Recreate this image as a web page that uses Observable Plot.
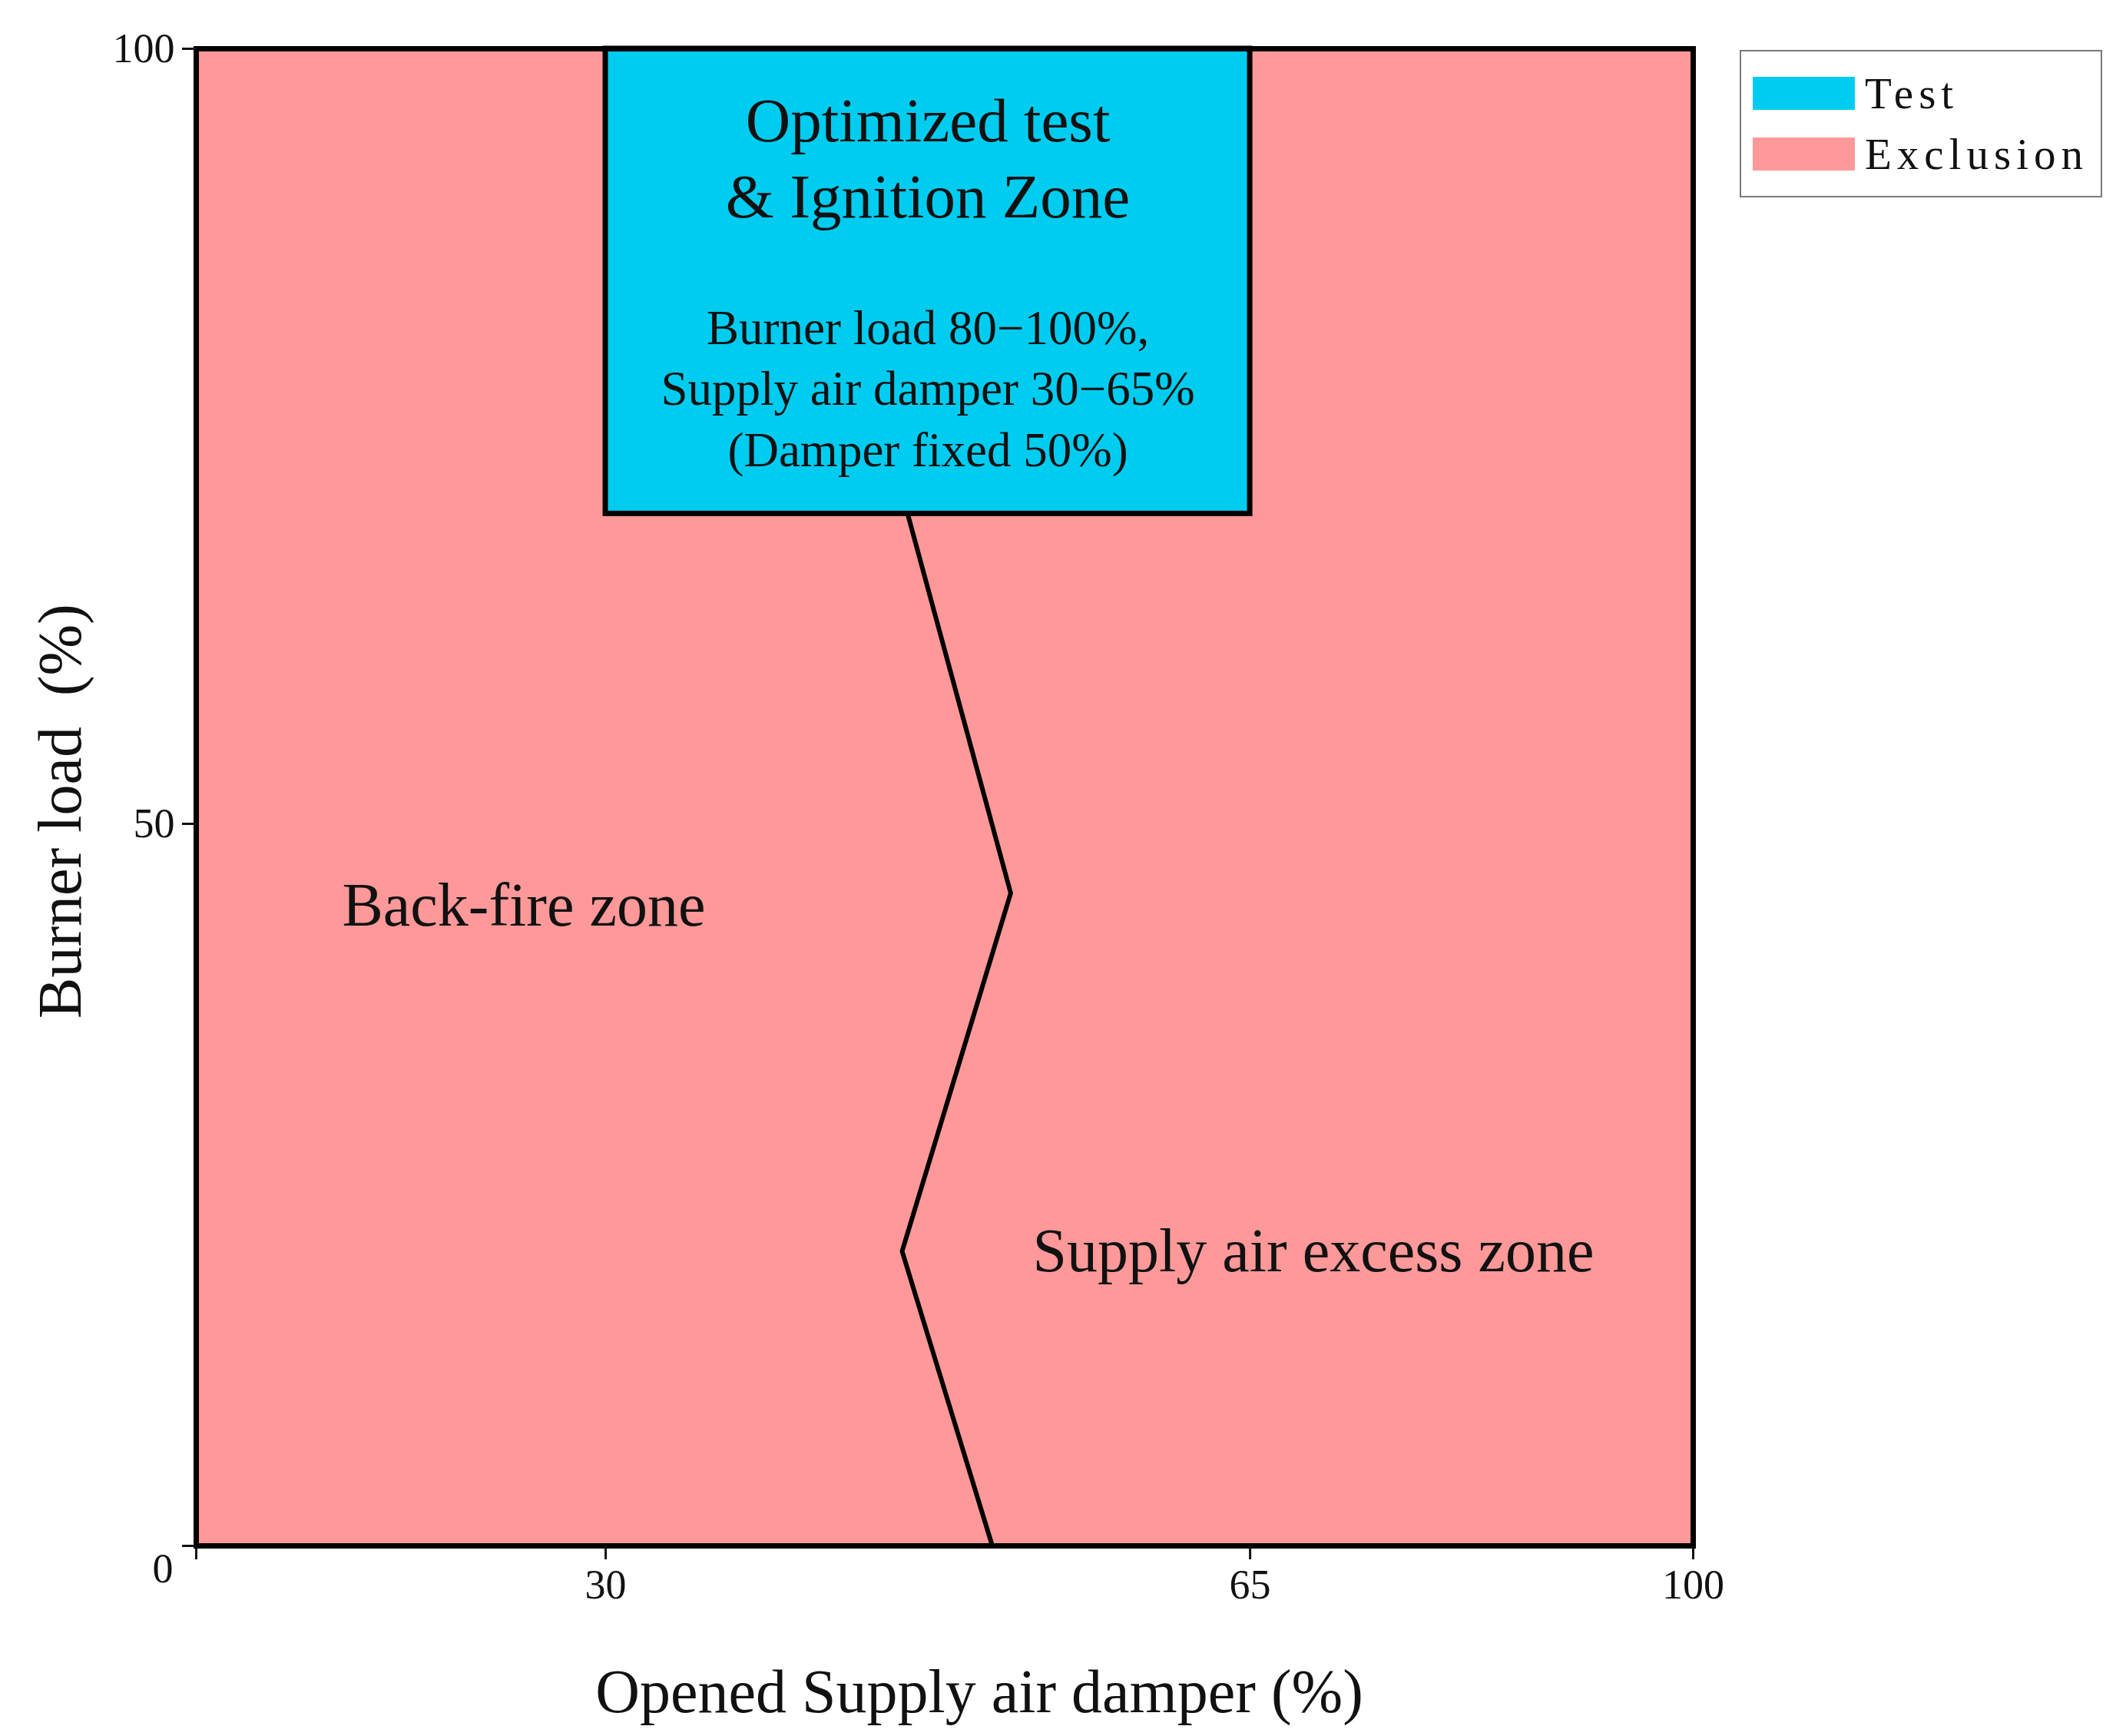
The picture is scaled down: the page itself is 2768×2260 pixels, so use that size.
<!DOCTYPE html>
<html>
<head>
<meta charset="utf-8">
<script src="https://cdn.jsdelivr.net/npm/d3@7"></script>
<script src="https://cdn.jsdelivr.net/npm/@observablehq/plot@0.6"></script>
<style>
  html, body { margin: 0; padding: 0; background: #fff; }
  #wrap { position: relative; width: 2768px; height: 2260px; overflow: hidden; }
  #legendBox {
    position: absolute; left: 2265px; top: 65px; width: 453px; height: 173px;
    border: 2px solid #7a7a7a; background: #fff; padding: 15px 0 0 15px;
  }
  .lg-swatches { font-family: "Liberation Serif", "Times New Roman", serif; font-size: 57px; letter-spacing: 7px; margin: 0; color: #111; }
  .lg-swatch { height: 79px; padding-bottom: 0; display: flex; align-items: center; }
  .lg-swatch > svg { margin-right: 13px; }
  .lg-swatch-label { overflow: visible; }
</style>
</head>
<body>
<div id="wrap"><div id="legendBox"></div></div>
<script>
// ---- data ----
const zoneNames = ["Test", "Exclusion"];
const zoneColors = ["#00CCF0", "#FF9999"];

// axis tick values and the (non-uniform) share of the axis length at which each sits, in %
const xTicks = [0, 30, 65, 100];
const xTickShare = [0, 27.35, 70.4, 100];
const yTicks = [0, 50, 100];
const yTickShare = [0, 48.23, 100];

// rectangular regions (data units)
const regionZone = ["Exclusion", "Test"];
const regionX1 = [0, 30];
const regionX2 = [100, 65];
const regionY1 = [0, 70];
const regionY2 = [100, 100];

// boundary between back-fire and supply-air-excess zones
const boundaryX = [46.4, 52.0, 46.1, 51.0];
const boundaryY = [70, 45.2, 20.4, 0];

// zone annotations
const zoneLabelText = ["Back-fire zone", "Supply air excess zone"];
const zoneLabelX = [24, 70];
const zoneLabelY = [44.3, 20.4];

const boxTitle = "Optimized test\n& Ignition Zone";
const boxTitleX = 47.5, boxTitleY = 93.15;
const boxDetail = "Burner load 80\u2212100%,\nSupply air damper 30\u221265%\n(Damper fixed 50%)";
const boxDetailX = 47.5, boxDetailY = 78.28;

const xLabel = "Opened Supply air damper (%)";
const yLabel = "Burner load\u00a0 (%)";

// ---- build tables ----
const regions = regionZone.map((z, i) => ({zone: z, x1: regionX1[i], x2: regionX2[i], y1: regionY1[i], y2: regionY2[i]}));
const boundary = boundaryX.map((x, i) => ({x, y: boundaryY[i]}));
const zoneLabels = zoneLabelText.map((t, i) => ({t, x: zoneLabelX[i], y: zoneLabelY[i]}));

const xWarp = d3.scaleLinear().domain(xTicks).range(xTickShare);
const yWarp = d3.scaleLinear().domain(yTicks).range(yTickShare);

const W = 2768, H = 2260;
const mL = 255, mR = 564, mT = 63, mB = 248;

const plot = Plot.plot({
  width: W,
  height: H,
  marginLeft: mL, marginRight: mR, marginTop: mT, marginBottom: mB,
  style: {fontFamily: "'Liberation Serif', 'Times New Roman', serif", fontSize: "54px", color: "#111", background: "#fff"},
  x: {domain: [0, 100], transform: xWarp, axis: null},
  y: {domain: [0, 100], transform: yWarp, axis: null},
  color: {domain: zoneNames, range: zoneColors},
  marks: [
    Plot.rect(regions.filter(d => d.zone === "Exclusion"), {x1: "x1", x2: "x2", y1: "y1", y2: "y2", fill: "zone"}),
    Plot.line(boundary, {x: "x", y: "y", stroke: "black", strokeWidth: 6, strokeLinejoin: "miter"}),
    Plot.rect(regions.filter(d => d.zone === "Test"), {x1: "x1", x2: "x2", y1: "y1", y2: "y2", fill: "zone", stroke: "black", strokeWidth: 7}),
    Plot.frame({stroke: "black", strokeWidth: 7}),
    Plot.axisX(xTicks, {tickSize: 18, tickPadding: 12, strokeWidth: 3, fontSize: 54, tickFormat: d => d === 0 ? "" : String(d)}),
    Plot.axisY(yTicks, {tickSize: 18, tickPadding: 10, strokeWidth: 3, fontSize: 54, tickFormat: d => d === 0 ? "" : String(d)}),
    Plot.text([0], {y: d => d, text: d => String(d), frameAnchor: "left", textAnchor: "end", lineAnchor: "middle", dx: -30, dy: 30, fontSize: 54}),
    Plot.text([boxTitle], {x: () => boxTitleX, y: () => boxTitleY, text: d => d, fontSize: 81, lineHeight: 1.22, lineAnchor: "middle"}),
    Plot.text([boxDetail], {x: () => boxDetailX, y: () => boxDetailY, text: d => d, fontSize: 63, lineHeight: 1.26, lineAnchor: "middle"}),
    Plot.text(zoneLabels, {x: "x", y: "y", text: "t", fontSize: 80}),
    Plot.text([xLabel], {frameAnchor: "bottom", textAnchor: "middle", lineAnchor: "middle", dx: 45, dy: 191, fontSize: 80}),
    Plot.text([yLabel], {frameAnchor: "left", textAnchor: "middle", lineAnchor: "middle", rotate: -90, dx: -176, dy: 18, fontSize: 80})
  ]
});

document.getElementById("wrap").prepend(plot);

const legend = plot.legend("color", {legend: "swatches", columns: 1, swatchWidth: 133, swatchHeight: 43, className: "lg"});
document.getElementById("legendBox").appendChild(legend);
</script>
</body>
</html>
